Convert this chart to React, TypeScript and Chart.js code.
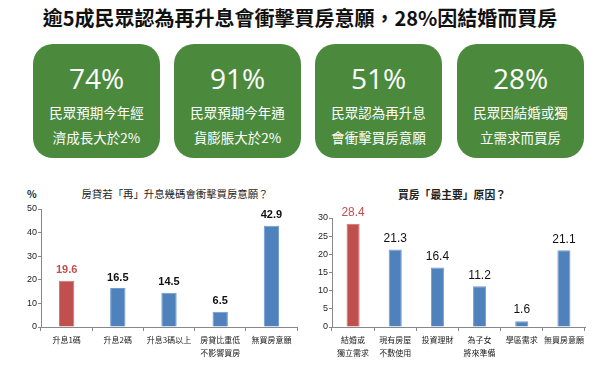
import React, { useEffect, useRef } from "react";
import { Chart, registerables } from "chart.js";

Chart.register(...registerables);

const mainTitle = "逾5成民眾認為再升息會衝擊買房意願，28%因結婚而買房";
const boxNumbers = ["74%", "91%", "51%", "28%"];
const boxLines = [
  ["民眾預期今年經", "濟成長大於2%"],
  ["民眾預期今年通", "貨膨脹大於2%"],
  ["民眾認為再升息", "會衝擊買房意願"],
  ["民眾因結婚或獨", "立需求而買房"],
];

const leftTitle = "房貸若「再」升息幾碼會衝擊買房意願？";
const leftCategories = [["升息1碼"], ["升息2碼"], ["升息3碼以上"], ["房貸比重低", "不影響買房"], ["無買房意願"]];
const leftValues = [19.6, 16.5, 14.5, 6.5, 42.9];

const rightTitle = "買房「最主要」原因？";
const rightCategories = [["結婚或", "獨立需求"], ["現有房屋", "不敷使用"], ["投資理財"], ["為子女", "將來準備"], ["學區需求"], ["無買房意願"]];
const rightValues = [28.4, 21.3, 16.4, 11.2, 1.6, 21.1];

const RED = "#c0504d";
const BLUE = "#4f81bd";
const FONT = "'Noto Sans CJK TC', 'Noto Sans', sans-serif";

function labelPlugin(bold: boolean, size: number) {
  return {
    id: "valueLabels",
    afterDatasetsDraw(chart: any) {
      const ctx = chart.ctx;
      const meta = chart.getDatasetMeta(0);
      const data = chart.data.datasets[0].data as number[];
      ctx.save();
      ctx.font = `${bold ? "bold " : ""}${size}px Arial, 'Liberation Sans', sans-serif`;
      ctx.textAlign = "center";
      ctx.textBaseline = "bottom";
      meta.data.forEach((bar: any, i: number) => {
        ctx.fillStyle = i === 0 ? RED : "#111";
        ctx.fillText(data[i].toFixed(1), bar.x, bar.y - 5);
      });
      ctx.restore();
    },
  };
}

function makeChart(
  canvas: HTMLCanvasElement,
  cats: string[][],
  vals: number[],
  max: number,
  step: number,
  yWidth: number,
  pad: { top: number; right: number },
  catPct: number,
  bold: boolean,
  lblSize: number
) {
  return new Chart(canvas, {
    type: "bar",
    data: {
      labels: cats as any,
      datasets: [
        {
          data: vals,
          backgroundColor: vals.map((_, i) => (i === 0 ? RED : BLUE)),
          borderColor: vals.map((_, i) => (i === 0 ? "#d0706d" : "#6f9bd0")),
          borderWidth: { top: 1, left: 1, right: 1, bottom: 0 } as any,
          barPercentage: 1,
          categoryPercentage: catPct,
        },
      ],
    },
    options: {
      animation: false,
      responsive: false,
      maintainAspectRatio: false,
      layout: { padding: { top: pad.top, right: pad.right, left: 0, bottom: 0 } },
      plugins: { legend: { display: false }, tooltip: { enabled: false } },
      scales: {
        x: {
          grid: { display: true, drawOnChartArea: false, drawTicks: true, tickLength: 4, color: "#888" },
          border: { color: "#888" },
          ticks: { color: "#222", font: { family: FONT, size: 8, lineHeight: 1.6 }, maxRotation: 0, autoSkip: false, padding: 3 },
          afterFit(s: any) {
            s.height = 40;
          },
        },
        y: {
          min: 0,
          max,
          grid: { display: true, drawOnChartArea: false, drawTicks: true, tickLength: 3, color: "#888" },
          border: { color: "#888" },
          ticks: { stepSize: step, color: "#222", font: { family: "Arial, 'Liberation Sans', sans-serif", size: 9 }, padding: 1 },
          afterFit(s: any) {
            s.width = yWidth;
          },
        },
      },
    },
    plugins: [labelPlugin(bold, lblSize)],
  });
}

export default function App() {
  const leftRef = useRef<HTMLCanvasElement>(null);
  const rightRef = useRef<HTMLCanvasElement>(null);

  useEffect(() => {
    const c1 = makeChart(leftRef.current!, leftCategories, leftValues, 50, 5, 41, { top: 14, right: 3 }, 0.3, true, 11);
    const c2 = makeChart(rightRef.current!, rightCategories, rightValues, 30, 5, 32, { top: 23, right: 15 }, 0.31, false, 12);
    return () => {
      c1.destroy();
      c2.destroy();
    };
  }, []);

  const boxLeft = [33, 174, 315, 457];

  return (
    <div style={{ position: "absolute", left: 0, top: 0, width: 600, height: 367, background: "#fff", overflow: "hidden", fontFamily: FONT }}>
      <div
        style={{
          position: "absolute",
          left: 0,
          width: 600,
          top: 4,
          textAlign: "center",
          fontSize: 20,
          fontWeight: "bold",
          color: "#111",
          lineHeight: "28px",
          paddingRight: 6,
        }}
      >
        {mainTitle}
      </div>
      {boxNumbers.map((n, i) => (
        <div
          key={i}
          style={{
            position: "absolute",
            left: boxLeft[i],
            top: 44,
            width: 127,
            height: 114,
            background: "#4b8a3c",
            borderRadius: 20,
            color: "#fff",
            textAlign: "center",
            overflow: "hidden",
          }}
        >
          <div style={{ position: "absolute", left: 0, right: 0, top: 16, fontSize: 28, lineHeight: "36px", fontFamily: "'Open Sans', 'Noto Sans', sans-serif" }}>{n}</div>
          <div style={{ position: "absolute", left: 0, right: 0, top: 58, fontSize: 13.5, lineHeight: "20px", whiteSpace: "nowrap" }}>{boxLines[i][0]}</div>
          <div style={{ position: "absolute", left: 0, right: 0, top: 83, fontSize: 13.5, lineHeight: "20px", whiteSpace: "nowrap" }}>{boxLines[i][1]}</div>
        </div>
      ))}
      <div style={{ position: "absolute", left: 27, top: 186, fontSize: 10, fontWeight: "bold", color: "#222" }}>%</div>
      <div style={{ position: "absolute", left: 40, width: 270, top: 186, textAlign: "center", fontSize: 10.4, color: "#222" }}>{leftTitle}</div>
      <div style={{ position: "absolute", left: 350, width: 204, top: 186, textAlign: "center", fontSize: 10.8, fontWeight: "bold", color: "#222" }}>{rightTitle}</div>
      <canvas ref={leftRef} width={300} height={172} style={{ position: "absolute", left: 0, top: 195, width: 300, height: 172 }} />
      <canvas ref={rightRef} width={300} height={172} style={{ position: "absolute", left: 300, top: 195, width: 300, height: 172 }} />
    </div>
  );
}
